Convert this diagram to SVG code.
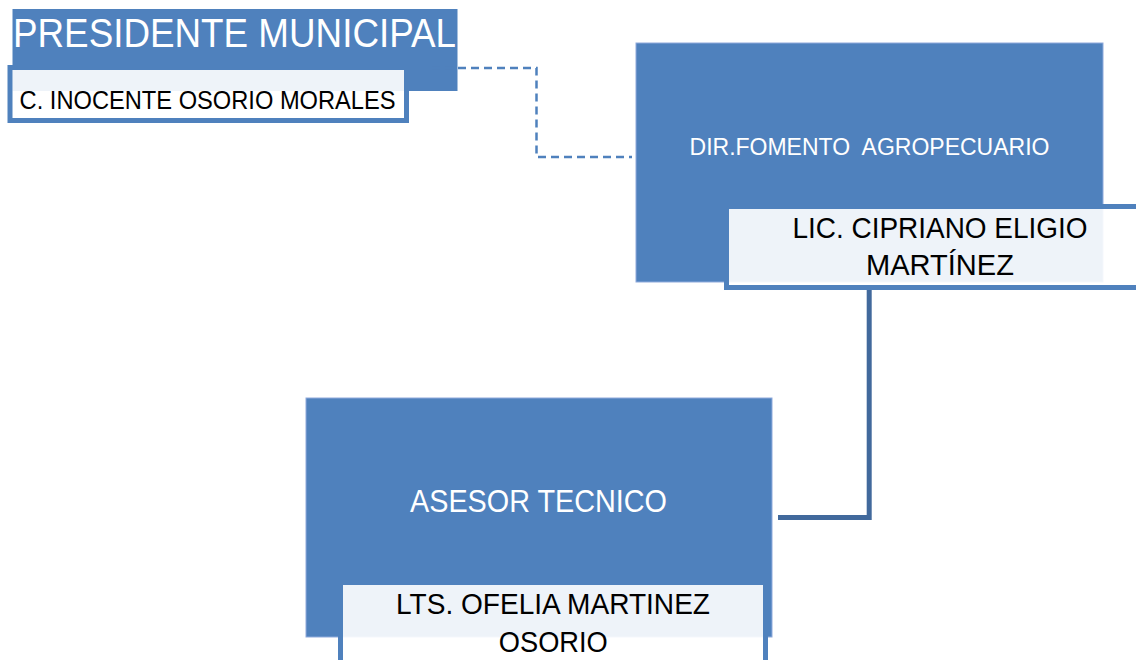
<svg xmlns="http://www.w3.org/2000/svg" width="1136" height="660" viewBox="0 0 1136 660">
  <style>
    .box { fill: #4F81BD; stroke: #8FAADC; stroke-width: 1; }
    .name { fill: #FFFFFF; fill-opacity: 0.9; stroke: #4F81BD; stroke-width: 5; }
    .t { font-family: "Liberation Sans", Arial, sans-serif; }
    .w { fill: #FFFFFF; }
    .k { fill: #000000; }
    .dash { fill: none; stroke: #4F81BD; stroke-width: 2.5; stroke-dasharray: 8 5; }
    .solid { fill: none; stroke: #41699C; stroke-width: 5; stroke-linejoin: miter; }
  </style>
  <rect width="1136" height="660" fill="#FFFFFF"/>

  <g id="node-presidente">
    <rect x="12.5" y="9" width="445" height="82" fill="#4F81BD"/>
    <text class="t w" x="13" y="46.5" font-size="40" textLength="443" lengthAdjust="spacingAndGlyphs">PRESIDENTE MUNICIPAL</text>
    <rect class="name" x="10" y="67.5" width="396.5" height="53"/>
    <text class="t k" x="19.6" y="109" font-size="25" textLength="376" lengthAdjust="spacingAndGlyphs">C. INOCENTE OSORIO MORALES</text>
  </g>

  <g id="node-dir-fomento">
    <rect class="box" x="636" y="43" width="467" height="239"/>
    <text class="t w" x="869.5" y="155" font-size="23" text-anchor="middle" xml:space="preserve" style="white-space:pre">DIR.FOMENTO  AGROPECUARIO</text>
    <rect class="name" x="726.5" y="206.5" width="427" height="81"/>
    <text class="t k" x="940" y="238" font-size="29" text-anchor="middle" textLength="295" lengthAdjust="spacingAndGlyphs">LIC. CIPRIANO ELIGIO</text>
    <text class="t k" x="940" y="275" font-size="29" text-anchor="middle" textLength="148" lengthAdjust="spacingAndGlyphs">MARTÍNEZ</text>
  </g>

  <g id="node-asesor">
    <rect class="box" x="306" y="398" width="466" height="239"/>
    <text class="t w" x="538.5" y="511.7" font-size="31" text-anchor="middle" textLength="257" lengthAdjust="spacingAndGlyphs">ASESOR TECNICO</text>
    <rect class="name" x="340.5" y="582.5" width="425" height="100"/>
    <text class="t k" x="553" y="614" font-size="29" text-anchor="middle" textLength="314" lengthAdjust="spacingAndGlyphs">LTS. OFELIA MARTINEZ</text>
    <text class="t k" x="553.3" y="651.7" font-size="29" text-anchor="middle" textLength="109" lengthAdjust="spacingAndGlyphs">OSORIO</text>
  </g>

  <g id="connectors">
    <path class="dash" d="M 432 68 H 536.5 V 157 H 632"/>
    <path class="solid" d="M 869.2 290 V 517.5 H 778"/>
  </g>
</svg>
